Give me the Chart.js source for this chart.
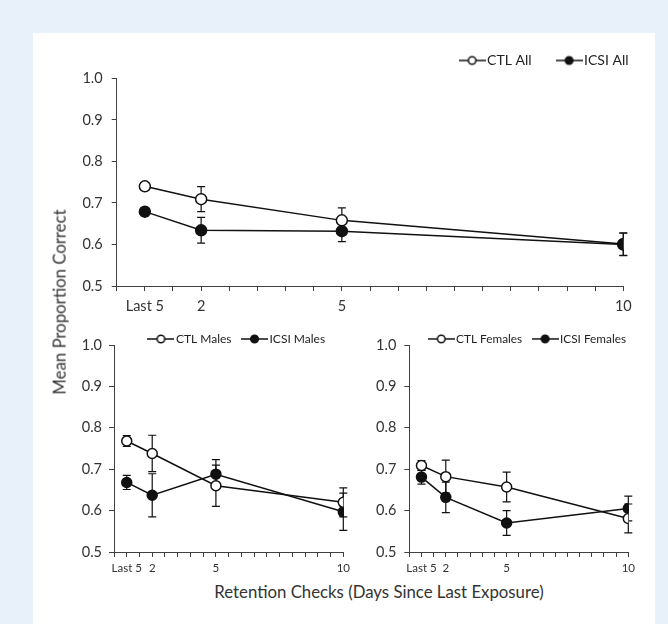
<!DOCTYPE html>
<html><head><meta charset="utf-8">
<script src="https://cdn.jsdelivr.net/npm/chart.js@4.4.0/dist/chart.umd.min.js"></script>
<style>
html,body{margin:0;padding:0;background:#e8f0fa;width:668px;height:624px;overflow:hidden;font-family:Lato,sans-serif}
#panel{position:absolute;left:33px;top:33px;width:622px;height:591px;background:#fff}
canvas{position:absolute}
.t{position:absolute;color:#333333;font-family:Lato,sans-serif;font-size:16.8px;white-space:nowrap;line-height:1}
</style></head><body>
<div id="panel"></div>
<canvas id="cTop" width="608" height="292" style="left:50px;top:24px"></canvas>
<canvas id="cMale" width="357" height="261" style="left:60px;top:319px"></canvas>
<canvas id="cFemale" width="280" height="261" style="left:360px;top:319px"></canvas>
<div class="t" id="yTitle" style="left:60px;top:302px;transform:translate(-50%,-50%) rotate(-90deg)">Mean Proportion Correct</div>
<div class="t" id="xTitle" style="left:379px;top:592px;transform:translate(-50%,-50%)">Retention Checks (Days Since Last Exposure)</div>
<script>
// ---- data ----
const categories = ['Last 5', '2', '5', '10'];
const categoryPos = [1, 3, 8, 18];
const yTickValues = [0.5, 0.6, 0.7, 0.8, 0.9, 1.0];

const ctlAll = [0.740, 0.709, 0.658, 0.601];
const ctlAllErr = [0.008, 0.030, 0.030, 0.027];
const icsiAll = [0.679, 0.634, 0.632, 0.600];
const icsiAllErr = [0.010, 0.031, 0.025, 0.027];

const ctlMales = [0.768, 0.738, 0.660, 0.620];
const ctlMalesErr = [0.013, 0.044, 0.050, 0.035];
const icsiMales = [0.668, 0.637, 0.688, 0.597];
const icsiMalesErr = [0.017, 0.052, 0.035, 0.045];

const ctlFemales = [0.709, 0.682, 0.657, 0.581];
const ctlFemalesErr = [0.012, 0.040, 0.036, 0.035];
const icsiFemales = [0.681, 0.632, 0.570, 0.605];
const icsiFemalesErr = [0.017, 0.037, 0.030, 0.030];

Chart.defaults.font.family = 'Lato';
const INK = '#111111';
const TXT = '#333333';

function legendIcon(filled, w, r) {
  const c = document.createElement('canvas');
  c.width = w; c.height = 12;
  const g = c.getContext('2d');
  g.strokeStyle = INK; g.lineWidth = 1.5;
  g.beginPath(); g.moveTo(0, 6); g.lineTo(w, 6); g.stroke();
  g.beginPath(); g.arc(w / 2, 6, r, 0, Math.PI * 2);
  g.fillStyle = filled ? INK : '#ffffff'; g.fill(); g.stroke();
  return c;
}

const errorBars = {
  id: 'errorBars',
  beforeDatasetsDraw(chart) {
    const {ctx} = chart;
    const x = chart.scales.x, y = chart.scales.y;
    ctx.save();
    ctx.strokeStyle = INK; ctx.lineWidth = 1.2;
    chart.data.datasets.forEach(ds => {
      ds.data.forEach((pt, i) => {
        const e = ds.errors[i];
        const px = x.getPixelForValue(pt.x);
        const yt = y.getPixelForValue(pt.y + e);
        const yb = y.getPixelForValue(pt.y - e);
        ctx.beginPath();
        ctx.moveTo(px, yt); ctx.lineTo(px, yb);
        ctx.moveTo(px - 4, yt); ctx.lineTo(px + 4, yt);
        ctx.moveTo(px - 4, yb); ctx.lineTo(px + 4, yb);
        ctx.stroke();
      });
    });
    ctx.restore();
  }
};

function spacer(axis, pos, size) {
  return {
    type: 'linear', axis: axis, position: pos, display: true,
    grid: {display: false, drawTicks: false}, border: {display: false},
    ticks: {display: false},
    afterFit: s => { if (axis === 'x') s.height = size; else s.width = size; }
  };
}

function series(label, vals, errs, filled, order, radius) {
  return {
    label: label,
    data: vals.map((v, i) => ({x: categoryPos[i], y: v})),
    errors: errs,
    filled: filled,
    order: order,
    xAxisID: 'x', yAxisID: 'y',
    borderColor: INK, borderWidth: 1.5, tension: 0,
    pointRadius: radius, pointBorderWidth: 1.5,
    pointBorderColor: INK,
    pointBackgroundColor: filled ? INK : '#ffffff'
  };
}

function makeChart(id, cfg) {
  return new Chart(document.getElementById(id), {
    type: 'line',
    data: {datasets: cfg.datasets},
    options: {
      responsive: false, animation: false, events: [],
      layout: {padding: 0},
      plugins: {
        tooltip: {enabled: false},
        legend: {
          display: true, position: 'top', align: cfg.legAlign,
          maxHeight: cfg.legMaxH,
          labels: {
            usePointStyle: true, pointStyleWidth: cfg.legBoxW,
            padding: cfg.legPad, color: '#222222',
            font: {size: cfg.legFont},
            generateLabels: chart => chart.data.datasets.map((ds, i) => ({
              text: ds.label, datasetIndex: i, hidden: false, lineWidth: 0,
              fontColor: '#222222',
              pointStyle: legendIcon(ds.filled, cfg.legIconW, cfg.legIconR)
            }))
          }
        }
      },
      scales: {
        x: {
          type: 'linear', axis: 'x', position: 'bottom', min: 0, max: 18,
          ticks: {
            stepSize: 1, autoSkip: false, maxRotation: 0, color: TXT,
            font: {size: cfg.xFont}, padding: cfg.xPad,
            callback: v => { const k = categoryPos.indexOf(v); return k >= 0 ? categories[k] : ''; }
          },
          grid: {drawOnChartArea: false, drawTicks: true, tickLength: 5, color: '#404040'},
          border: {color: '#404040', width: 1},
          afterFit: s => { s.height = cfg.xH; }
        },
        y: {
          type: 'linear', axis: 'y', position: 'left', min: 0.5, max: 1.0,
          afterBuildTicks: s => { s.ticks = yTickValues.map(v => ({value: v})); },
          ticks: {color: TXT, font: {size: 14.5}, padding: cfg.yPad, callback: v => v.toFixed(1)},
          grid: {drawOnChartArea: false, drawTicks: true, tickLength: 5, color: '#404040'},
          border: {color: '#404040', width: 1},
          afterFit: s => { s.width = cfg.yW; }
        },
        xT: spacer('x', 'top', cfg.topGap),
        yR: spacer('y', 'right', cfg.rightW)
      }
    },
    plugins: [errorBars]
  });
}

makeChart('cTop', {
  datasets: [
    series('CTL All', ctlAll, ctlAllErr, false, 1, 5.5),
    series('ICSI All', icsiAll, icsiAllErr, true, 0, 5.5)
  ],
  legAlign: 'end', legMaxH: undefined, legBoxW: 16, legPad: 29.5, legFont: 14,
  legIconW: 27, legIconR: 3.8,
  xFont: 14.5, xPad: 7, xH: 30, yPad: 9, yW: 66.7, topGap: 0.8, rightW: 34.7
});

makeChart('cMale', {
  datasets: [
    series('CTL Males', ctlMales, ctlMalesErr, false, 0, 5),
    series('ICSI Males', icsiMales, icsiMalesErr, true, 1, 5)
  ],
  legAlign: 'center', legMaxH: 26, legBoxW: 18, legPad: 14, legFont: 12,
  legIconW: 27, legIconR: 3.8,
  xFont: 11.5, xPad: 4, xH: 28, yPad: 7, yW: 54, topGap: 0, rightW: 73.7
});

makeChart('cFemale', {
  datasets: [
    series('CTL Females', ctlFemales, ctlFemalesErr, false, 0, 5),
    series('ICSI Females', icsiFemales, icsiFemalesErr, true, 1, 5)
  ],
  legAlign: 'end', legMaxH: 26, legBoxW: 18, legPad: 14, legFont: 11.8,
  legIconW: 27, legIconR: 3.8,
  xFont: 11.5, xPad: 4, xH: 28, yPad: 8, yW: 49.3, topGap: 0, rightW: 11.7
});
</script>
</body></html>
